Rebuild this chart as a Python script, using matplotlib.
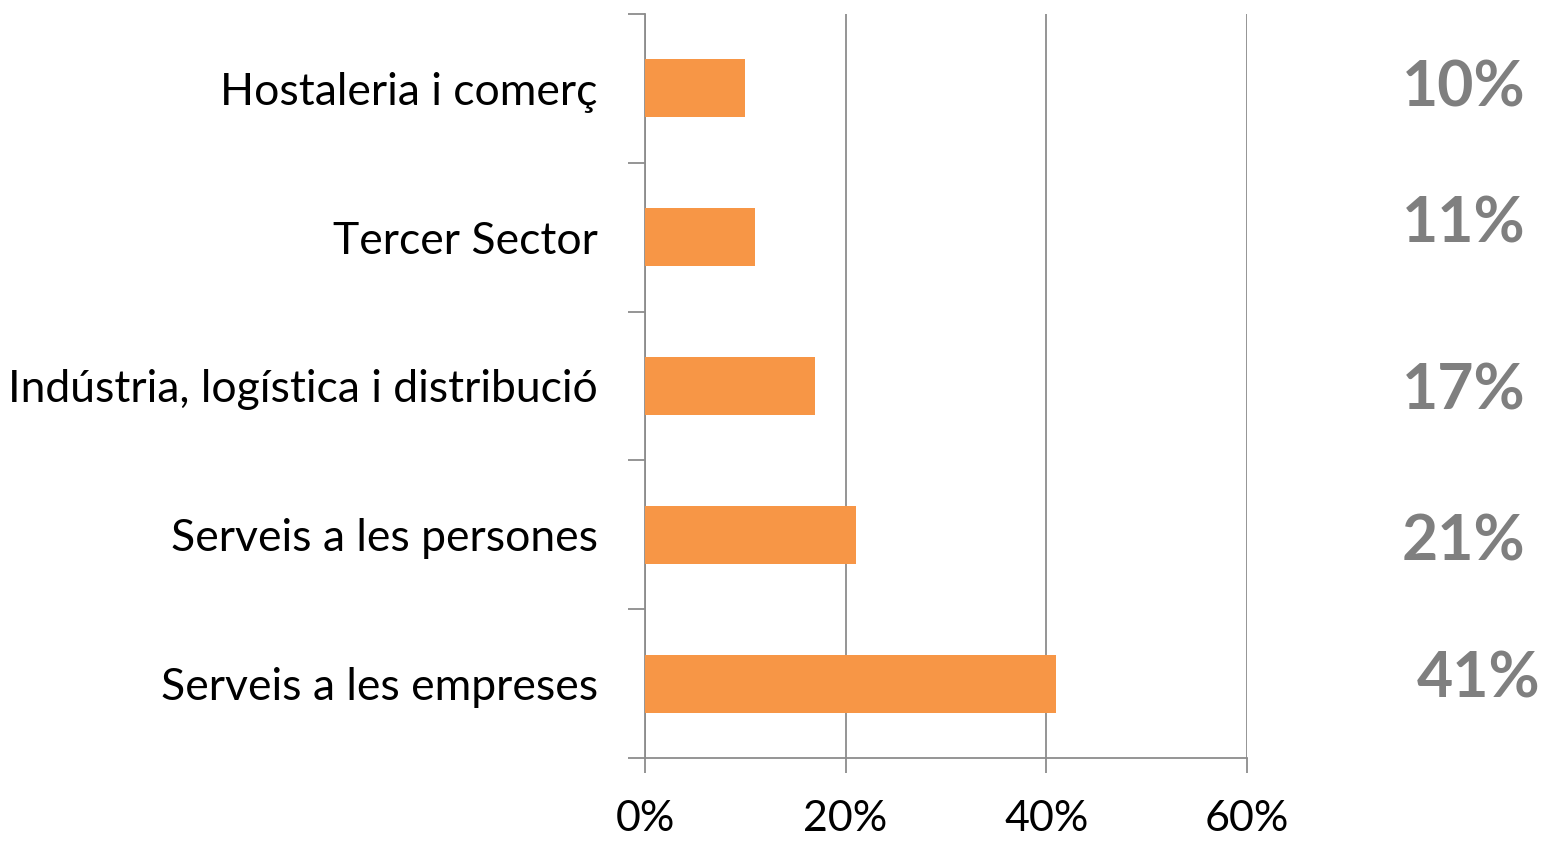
import matplotlib
matplotlib.use('Agg')
import matplotlib.pyplot as plt
from matplotlib.ticker import FixedLocator, PercentFormatter

plt.rcParams['font.family'] = ['Lato', 'DejaVu Sans']

# dades (de baix a dalt)
sectors = ['Serveis a les empreses', 'Serveis a les persones',
           'Indústria, logística i distribució', 'Tercer Sector',
           'Hostaleria i comerç']
valors = [0.41, 0.21, 0.17, 0.11, 0.10]
etiquetes = ['41%', '21%', '17%', '11%', '10%']

# petits desplaçaments de les etiquetes de la dreta (com a l'original)
desp_x = [0.015, 0, 0, 0, 0]
desp_y = [0.03, -0.05, -0.035, 0.085, 0.0]

taronja = '#F79646'
gris = '#8C8C8C'

fig = plt.figure(figsize=(15.43, 8.41), dpi=100)
ax = fig.add_axes([0.418, 0.0987, 0.390, 0.8847])

pos = list(range(len(sectors)))
ax.barh(pos, valors, height=0.39, color=taronja, zorder=3)

ax.set_xlim(0, 0.6)
ax.set_ylim(-0.5, len(sectors) - 0.5)
ax.set_xticks([0, 0.2, 0.4, 0.6])
ax.xaxis.set_major_formatter(PercentFormatter(1.0, decimals=0))
ax.grid(axis='x', color=gris, linewidth=1.3, zorder=0)

ax.set_yticks(pos)
ax.set_yticklabels(sectors)
ax.yaxis.set_minor_locator(FixedLocator([p - 0.5 for p in pos] + [pos[-1] + 0.5]))
ax.tick_params(axis='y', which='major', length=0, pad=34, labelsize=32)
ax.tick_params(axis='y', which='minor', length=12, width=1.3, color=gris)
ax.tick_params(axis='x', length=11, width=1.3, color=gris, pad=19, labelsize=31)

for s in ['top', 'right']:
    ax.spines[s].set_visible(False)
for s in ['left', 'bottom']:
    ax.spines[s].set_color(gris)
    ax.spines[s].set_linewidth(1.3)

for p, t, dx, dy in zip(pos, etiquetes, desp_x, desp_y):
    ax.text(0.878 + dx, p + dy, t, ha='right', va='center', fontsize=45,
            fontweight='bold', color='#7F7F7F', clip_on=False)

fig.savefig('out.png', dpi=100)
